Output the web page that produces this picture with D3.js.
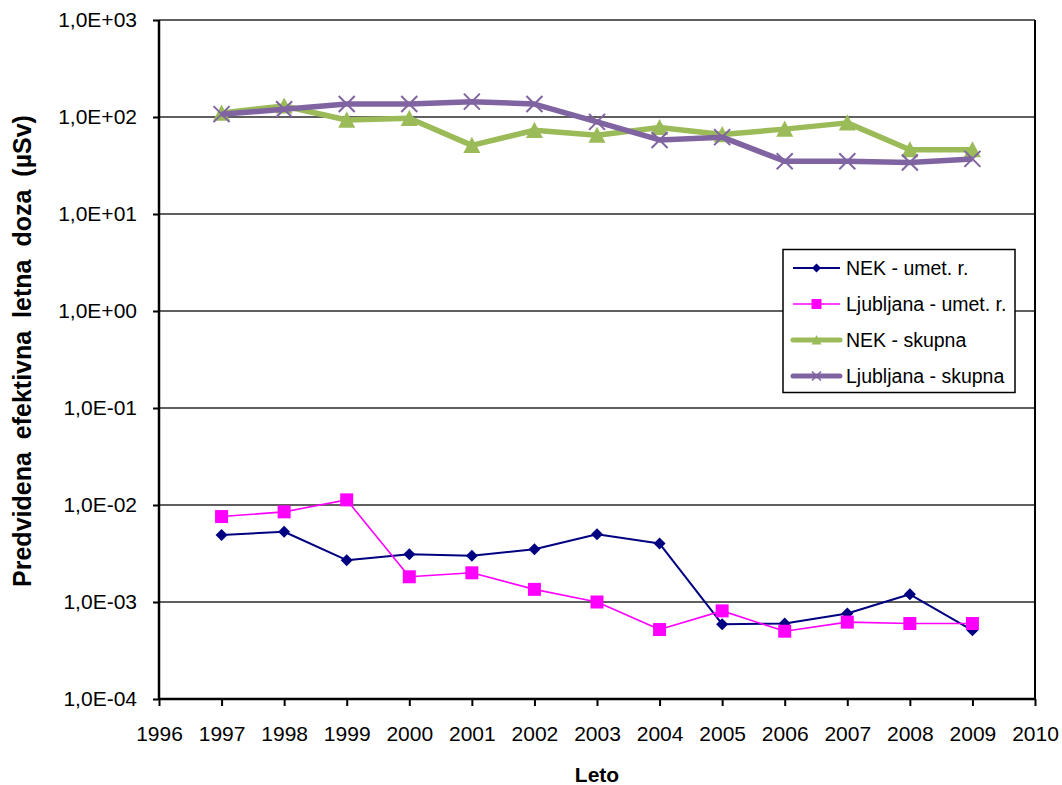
<!DOCTYPE html>
<html>
<head>
<meta charset="utf-8">
<script src="https://cdn.jsdelivr.net/npm/d3@7"></script>
<style>
  body { margin: 0; background: #fff; }
  text { font-family: "Liberation Sans", Arial, sans-serif; fill: #000; }
</style>
</head>
<body>
<svg id="chart" width="1062" height="785"></svg>
<script>
// Predicted annual effective dose, 1997–2009
const years = [1997, 1998, 1999, 2000, 2001, 2002, 2003, 2004, 2005, 2006, 2007, 2008, 2009];
const nekUmet = [0.0049, 0.0053, 0.0027, 0.0031, 0.0030, 0.0035, 0.0050, 0.0040, 0.00059, 0.00060, 0.00076, 0.0012, 0.00051];
const ljubljanaUmet = [0.0076, 0.0085, 0.0113, 0.00182, 0.0020, 0.00135, 0.0010, 0.00052, 0.00081, 0.00050, 0.00062, 0.00060, 0.00060];
const nekSkupna = [110, 130, 93, 97, 51, 73, 65, 78, 66, 75, 87, 46, 46];
const ljubljanaSkupna = [107, 120, 136, 136, 144, 136, 89, 58, 62, 35, 35, 34, 37];

const seriesNames = ["NEK - umet. r.", "Ljubljana - umet. r.", "NEK - skupna", "Ljubljana - skupna"];
const yTickValues = [1e-4, 1e-3, 1e-2, 1e-1, 1e0, 1e1, 1e2, 1e3];
const yTickLabels = ["1,0E-04", "1,0E-03", "1,0E-02", "1,0E-01", "1,0E+00", "1,0E+01", "1,0E+02", "1,0E+03"];
const xTickValues = d3.range(1996, 2011);
const yTitle = "Predvidena efektivna letna doza (µSv)";
const xTitle = "Leto";

const svg = d3.select("#chart");
const plot = { left: 159, right: 1035, top: 20, bottom: 699 };

const x = d3.scaleLinear().domain([1996, 2010]).range([plot.left, plot.right]);
const y = d3.scaleLog().domain([1e-4, 1e3]).range([plot.bottom, plot.top]);

svg.append("rect").attr("width", 1062).attr("height", 785).attr("fill", "#fff");

// horizontal gridlines at each decade
svg.append("g").selectAll("line")
  .data(yTickValues.slice(1))
  .join("line")
  .attr("x1", plot.left).attr("x2", plot.right)
  .attr("y1", d => y(d)).attr("y2", d => y(d))
  .attr("stroke", "#2a2a2a").attr("stroke-width", 1.6);

// right border of plot area
svg.append("line")
  .attr("x1", plot.right).attr("x2", plot.right)
  .attr("y1", plot.top).attr("y2", plot.bottom)
  .attr("stroke", "#000").attr("stroke-width", 2);

// y axis
const yAxis = d3.axisLeft(y)
  .tickValues(yTickValues)
  .tickSize(6)
  .tickPadding(16)
  .tickFormat((d, i) => yTickLabels[i]);
const gy = svg.append("g").attr("transform", `translate(${plot.left},0)`).call(yAxis);
gy.select(".domain").remove();
gy.selectAll(".tick line").attr("stroke", "#000").attr("stroke-width", 2);
gy.selectAll(".tick text")
  .attr("font-size", 21)
  .attr("font-family", "Liberation Sans, Arial, sans-serif")
  .attr("fill", "#000");

// x axis
const xAxis = d3.axisBottom(x)
  .tickValues(xTickValues)
  .tickSize(7)
  .tickPadding(20)
  .tickFormat(d3.format("d"));
const gx = svg.append("g").attr("transform", `translate(0,${plot.bottom})`).call(xAxis);
gx.select(".domain").remove();
gx.selectAll(".tick line").attr("stroke", "#000").attr("stroke-width", 2);
gx.selectAll(".tick text")
  .attr("font-size", 21)
  .attr("font-family", "Liberation Sans, Arial, sans-serif")
  .attr("fill", "#000");

// axis lines
svg.append("line")
  .attr("x1", plot.left).attr("x2", plot.left)
  .attr("y1", plot.top).attr("y2", plot.bottom)
  .attr("stroke", "#000").attr("stroke-width", 2.5);
svg.append("line")
  .attr("x1", plot.left).attr("x2", plot.right)
  .attr("y1", plot.bottom).attr("y2", plot.bottom)
  .attr("stroke", "#000").attr("stroke-width", 2.5);

// marker shapes
const markers = {
  diamond: (g, s) => g.append("path").attr("d", `M0,${-s}L${s},0L0,${s}L${-s},0Z`),
  square: (g, s) => g.append("rect").attr("x", -s).attr("y", -s).attr("width", 2 * s).attr("height", 2 * s),
  triangle: (g, s) => g.append("path").attr("d", `M0,${-s}L${s},${s * 0.9}L${-s},${s * 0.9}Z`),
  cross: (g, s) => g.append("path").attr("d", `M${-s},${-s}L${s},${s}M${-s},${s}L${s},${-s}`)
};

const series = [
  { name: seriesNames[0], values: nekUmet, color: "#000080", width: 2, marker: "diamond", size: 6, legendSize: 4.5 },
  { name: seriesNames[1], values: ljubljanaUmet, color: "#FF00FF", width: 1.6, marker: "square", size: 6.5, legendSize: 5 },
  { name: seriesNames[2], values: nekSkupna, color: "#9BBB59", width: 5.5, marker: "triangle", size: 8.5, legendSize: 5 },
  { name: seriesNames[3], values: ljubljanaSkupna, color: "#8064A2", width: 5.5, marker: "cross", size: 8, legendSize: 4.5 }
];

const line = d3.line().x(d => x(d[0])).y(d => y(d[1]));

series.forEach(s => {
  const pts = years.map((yr, i) => [yr, s.values[i]]);
  const g = svg.append("g");
  g.append("path")
    .attr("d", line(pts))
    .attr("fill", "none")
    .attr("stroke", s.color)
    .attr("stroke-width", s.width)
    .attr("stroke-linejoin", "round");
  pts.forEach(p => {
    const m = g.append("g").attr("transform", `translate(${x(p[0])},${y(p[1])})`);
    const shape = markers[s.marker](m, s.size);
    if (s.marker === "cross") {
      shape.attr("fill", "none").attr("stroke", s.color).attr("stroke-width", 2);
    } else {
      shape.attr("fill", s.color);
    }
  });
});

// legend
const legend = svg.append("g");
legend.append("rect")
  .attr("x", 783).attr("y", 249.5).attr("width", 232).attr("height", 143)
  .attr("fill", "#fff").attr("stroke", "#000").attr("stroke-width", 1.5);
const legendRows = [268, 304, 340, 376];
series.forEach((s, i) => {
  const ly = legendRows[i];
  legend.append("line")
    .attr("x1", 793).attr("x2", 840).attr("y1", ly).attr("y2", ly)
    .attr("stroke", s.color).attr("stroke-width", s.width === 5.5 ? 5 : s.width)
    .attr("stroke-linecap", s.width === 5.5 ? "round" : "butt");
  const m = legend.append("g").attr("transform", `translate(816.5,${ly})`);
  const shape = markers[s.marker](m, s.legendSize);
  if (s.marker === "cross") {
    shape.attr("fill", "none").attr("stroke", s.color).attr("stroke-width", 1.5);
  } else {
    shape.attr("fill", s.color);
  }
  legend.append("text")
    .attr("x", 846).attr("y", ly)
    .attr("dy", "0.36em")
    .attr("font-size", 19.5)
    .text(s.name);
});

// axis titles
svg.append("text")
  .attr("transform", `translate(31,351) rotate(-90)`)
  .attr("text-anchor", "middle")
  .attr("font-size", 25)
  .attr("font-weight", "bold")
  .attr("word-spacing", 6)
  .text(yTitle);

svg.append("text")
  .attr("x", (plot.left + plot.right) / 2)
  .attr("y", 782)
  .attr("text-anchor", "middle")
  .attr("font-size", 21)
  .attr("font-weight", "bold")
  .text(xTitle);
</script>
</body>
</html>
